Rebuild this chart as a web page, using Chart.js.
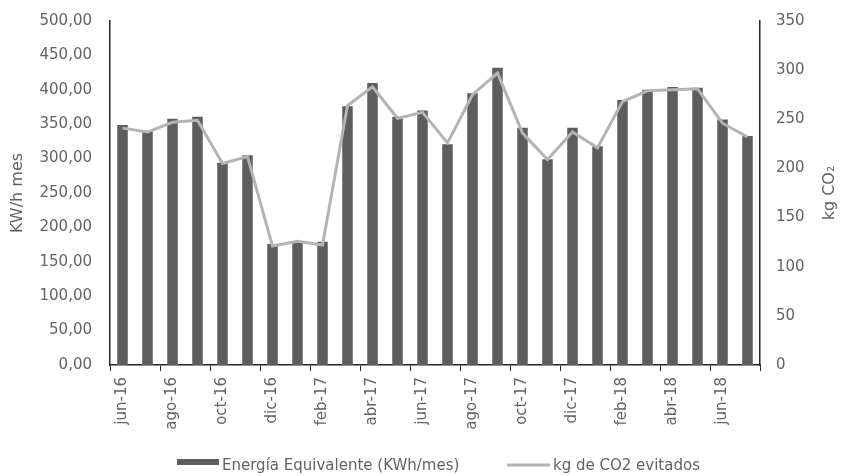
<!DOCTYPE html>
<html>
<head>
<meta charset="utf-8">
<script src="https://cdn.jsdelivr.net/npm/chart.js@4.4.1/dist/chart.umd.min.js"></script>
<style>
html,body{margin:0;padding:0;background:#fff;}
canvas{display:block;}
</style>
</head>
<body>
<canvas id="c" width="844" height="476"></canvas>
<script>
const months = ['jun-16','jul-16','ago-16','sep-16','oct-16','nov-16','dic-16','ene-17','feb-17','mar-17','abr-17','may-17','jun-17','jul-17','ago-17','sep-17','oct-17','nov-17','dic-17','ene-18','feb-18','mar-18','abr-18','may-18','jun-18','jul-18'];
const energia = [349, 340, 358, 361, 294, 305, 176, 180, 179, 376, 410, 361, 370, 321, 395, 432, 345, 299, 345, 318, 385, 400, 404, 403, 357, 333];
const co2 = [241, 237, 247, 249, 205, 212, 121, 126, 122, 264, 283, 251, 257, 226, 275, 297, 236, 209, 237, 221, 268, 279, 280, 281, 246, 232];
const seriesNames = ['Energía Equivalente (KWh/mes)', 'kg de CO2 evitados'];
const axisTitles = ['KW/h mes', 'kg CO₂'];

const BAR = '#5e5e5e';
const LINE = '#b4b4b4';
const TXT = '#636363';
const AX = '#262626';
const FONT = '"DejaVu Sans", sans-serif';

const extras = {
  id: 'extras',
  afterDraw(chart) {
    const ctx = chart.ctx;
    const ca = chart.chartArea;
    ctx.save();
    ctx.fillStyle = TXT;
    ctx.font = '16px ' + FONT;
    ctx.translate(chart.width - 14, (ca.top + ca.bottom) / 2);
    ctx.rotate(-Math.PI / 2);
    ctx.textAlign = 'center';
    ctx.textBaseline = 'middle';
    ctx.fillText(axisTitles[1], 0, 0);
    ctx.restore();

    ctx.save();
    ctx.font = '15px ' + FONT;
    ctx.textBaseline = 'middle';
    ctx.textAlign = 'left';
    ctx.fillStyle = BAR;
    ctx.fillRect(177, 459, 42, 6);
    ctx.fillStyle = TXT;
    ctx.fillText(seriesNames[0], 222, 466);
    ctx.strokeStyle = LINE;
    ctx.lineWidth = 3;
    ctx.beginPath();
    ctx.moveTo(507, 465);
    ctx.lineTo(550, 465);
    ctx.stroke();
    ctx.fillText(seriesNames[1], 553, 466);
    ctx.restore();
  }
};

function zeroPad(s) { s.paddingTop = 0; s.paddingBottom = 0; }

new Chart(document.getElementById('c'), {
  data: {
    labels: months,
    datasets: [
      {
        type: 'bar',
        label: seriesNames[0],
        data: energia,
        backgroundColor: BAR,
        yAxisID: 'y',
        barPercentage: 0.42,
        categoryPercentage: 1.0,
        order: 1
      },
      {
        type: 'line',
        label: seriesNames[1],
        data: co2,
        borderColor: LINE,
        borderWidth: 3,
        pointRadius: 0,
        tension: 0,
        fill: false,
        yAxisID: 'y1',
        order: 0
      }
    ]
  },
  options: {
    responsive: false,
    animation: false,
    devicePixelRatio: 1,
    layout: { padding: { top: 21, left: 0, right: 0, bottom: 0 } },
    plugins: {
      legend: { display: false },
      tooltip: { enabled: false },
      title: { display: false }
    },
    scales: {
      x: {
        offset: true,
        grid: {
          offset: true,
          drawOnChartArea: false,
          drawTicks: true,
          tickLength: 6,
          color: (c) => (c.index === undefined || c.index % 2 === 0) ? AX : 'rgba(0,0,0,0)'
        },
        border: { display: true, color: AX, width: 1.5 },
        ticks: {
          autoSkip: false,
          maxRotation: 90,
          minRotation: 90,
          padding: 6,
          color: TXT,
          font: { family: FONT, size: 15 },
          callback: function(v, i) { return i % 2 === 0 ? months[i] : ''; }
        },
        afterFit: (s) => { s.height = 111; s.paddingTop = 0; s.paddingBottom = 0; s.paddingLeft = 0; s.paddingRight = 0; }
      },
      y: {
        position: 'left',
        min: 0,
        max: 500,
        grid: { display: false, drawTicks: false },
        border: { display: true, color: AX, width: 1.5 },
        ticks: {
          stepSize: 50,
          padding: 18,
          color: TXT,
          font: { family: FONT, size: 15 },
          callback: (v) => v.toFixed(2).replace('.', ',')
        },
        title: {
          display: true,
          text: axisTitles[0],
          color: TXT,
          font: { family: FONT, size: 16 },
          padding: { top: 8, bottom: 0 }
        },
        afterFit: (s) => { s.width = 110; zeroPad(s); }
      },
      y1: {
        position: 'right',
        min: 0,
        max: 350,
        grid: { display: false, drawTicks: false },
        border: { display: true, color: AX, width: 1.5 },
        ticks: {
          stepSize: 50,
          padding: 16,
          color: TXT,
          font: { family: FONT, size: 15 }
        },
        afterFit: (s) => { s.width = 84; zeroPad(s); }
      }
    }
  },
  plugins: [extras]
});
</script>
</body>
</html>
